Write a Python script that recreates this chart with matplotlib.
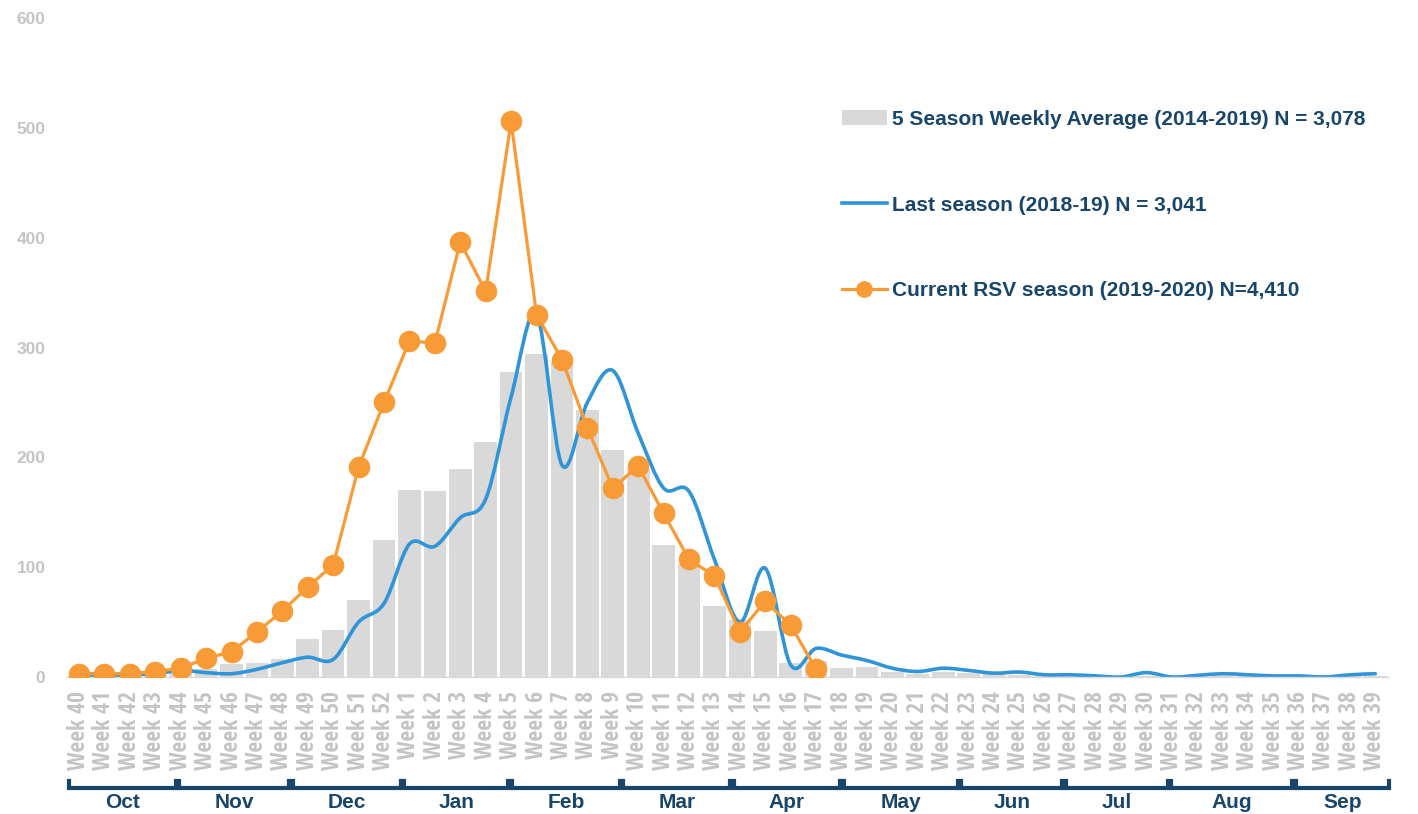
import numpy as np
import matplotlib.pyplot as plt
import matplotlib.transforms as mtransforms
from matplotlib.path import Path
from matplotlib.patches import PathPatch, Patch
from matplotlib.lines import Line2D

# week categories (season runs week 40 -> week 39)
week_nums = list(range(40, 53)) + list(range(1, 40))
week_labels = ["Week %d" % w for w in week_nums]

# 5 season weekly average (2014-2019)
avg_5season = [1, 1, 2, 3, 5, 7, 12, 13, 16, 35, 43, 70, 125,
               170, 169, 189, 214, 278, 294, 287, 243, 207, 189, 120, 103, 65,
               52, 42, 13, 15, 8, 9, 5, 3, 5, 3.5, 2.5, 2, 1, 1, 1, 0.5,
               1, 0.5, 0.5, 0.5, 0.5, 0.5, 0.5, 0.5, 0.5, 0.5]

# last season (2018-19)
last_season = [1, 1, 2, 3, 6, 4, 3, 7, 13, 18, 16, 50, 67,
               121, 119, 145, 162, 255, 330, 193, 250, 279, 222, 172, 169, 107,
               50, 99, 11, 26, 20, 15, 8, 5, 8, 6, 3.5, 4.5, 2, 2, 1, 0,
               4, 0, 1.5, 3, 2, 1, 1, 0, 2, 3]

# current RSV season (2019-2020), week 40 -> week 17
current_season = [3, 3, 3, 5, 8, 17, 23, 41, 60, 82, 102, 191, 250,
                  306, 304, 396, 351, 506, 330, 289, 227, 172, 192, 149, 107, 92,
                  41, 69, 47, 7]

month_names = ["Oct", "Nov", "Dec", "Jan", "Feb", "Mar", "Apr", "May",
               "Jun", "Jul", "Aug", "Sep"]

legend_labels = ["5 Season Weekly Average (2014-2019) N = 3,078",
                 "Last season (2018-19) N = 3,041",
                 "Current RSV season (2019-2020) N=4,410"]

# layout / styling
bar_color = '#D9D9D9'
blue = '#2F94D8'
orange = '#F89B36'
navy = '#18466B'
tick_gray = '#C4C4C4'
wide = ['Liberation Sans', 'DejaVu Sans']
cond = ['Open Sans Condensed', 'DejaVu Sans']
# bracket edges of month groups, in category units
month_edges = [-0.45, 3.88, 8.34, 12.73, 16.96, 21.35, 25.68, 30.01,
               34.65, 38.75, 42.9, 47.8, 51.6]

fig = plt.figure(figsize=(14.18, 8.14), dpi=100)
ax = fig.add_axes([66.3 / 1418, 1 - 677 / 814, (1388 - 66.3) / 1418, (677 - 18) / 814])

x = np.arange(len(week_nums))
ax.bar(x, avg_5season, width=0.89, color=bar_color, zorder=1)

# smoothed line for last season (cubic bezier through points, like excel smoothing)
pts = np.column_stack([x, last_season]).astype(float)
n = len(pts)
verts = [pts[0]]
codes = [Path.MOVETO]
for i in range(n - 1):
    p0 = pts[i - 1] if i > 0 else pts[i]
    p3 = pts[i + 2] if i + 2 < n else pts[i + 1]
    c1 = pts[i] + (pts[i + 1] - p0) / 6.0
    c2 = pts[i + 1] - (p3 - pts[i]) / 6.0
    verts += [c1, c2, pts[i + 1]]
    codes += [Path.CURVE4] * 3
ax.add_patch(PathPatch(Path(verts, codes), facecolor='none', edgecolor=blue,
                       lw=2.6, zorder=2, capstyle='round'))

ax.plot(x[:len(current_season)], current_season, color=orange, lw=2.3,
        marker='o', markersize=14.5, zorder=3)

ax.set_xlim(-0.5, len(week_nums) - 0.5)
ax.set_ylim(0, 600)
ax.set_yticks(range(0, 601, 100))
ax.set_xticks(x)
ax.set_xticklabels(week_labels, rotation=90, color=tick_gray, fontsize=17,
                   family=cond, fontweight='bold')
for lab in ax.get_yticklabels():
    lab.set_family(wide)
    lab.set_fontweight('bold')
    lab.set_fontsize(12.5)
    lab.set_color(tick_gray)
ax.tick_params(axis='y', length=0, pad=15)
ax.tick_params(axis='x', length=0, pad=10)
for s in ['top', 'right', 'left']:
    ax.spines[s].set_visible(False)
ax.spines['bottom'].set_color(bar_color)
ax.spines['bottom'].set_linewidth(1)

# month brackets below the week labels
trans = mtransforms.blended_transform_factory(ax.transData, fig.transFigure)
y_line = 1 - 788 / 814
y_tip = 1 - 781 / 814
for i, name in enumerate(month_names):
    x0 = month_edges[i] + 0.07
    x1 = month_edges[i + 1] - 0.07
    ax.plot([x0, x0, x1, x1], [y_tip, y_line, y_line, y_tip], color=navy,
            lw=3.0, transform=trans, clip_on=False, solid_joinstyle='miter')
    ax.text((x0 + x1) / 2, 1 - 802 / 814, name, transform=trans, ha='center',
            va='center', color=navy, fontsize=15, fontweight='bold',
            family=wide)

handles = [Patch(facecolor=bar_color, edgecolor='none'),
           Line2D([], [], color=blue, lw=2.6),
           Line2D([], [], color=orange, lw=2.3, marker='o', markersize=11)]
ax.legend(handles, legend_labels, loc='upper left',
          bbox_to_anchor=(842 / 1418, 1 - 110 / 814), bbox_transform=fig.transFigure,
          frameon=False, borderpad=0, borderaxespad=0, handlelength=2.15,
          handletextpad=0.25, labelspacing=3.2, labelcolor=navy,
          prop={'family': wide, 'weight': 'bold', 'size': 15})

fig.savefig("out.png", dpi=100)
